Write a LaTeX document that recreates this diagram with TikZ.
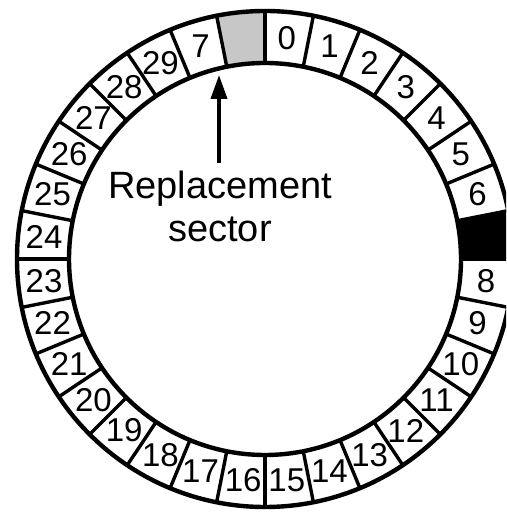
\documentclass[tikz,border=0pt]{standalone}
\usepackage{fontspec}
\setmainfont{Liberation Sans}
\usetikzlibrary{arrows.meta}
\tikzset{
  ringline/.style={line width=4.4pt, black},
  divider/.style={line width=3.4pt, black},
  seclabel/.style={font=\fontsize{33}{36}\selectfont, inner sep=0pt},
  captext/.style={font=\fontsize{38}{43}\selectfont, align=center, inner sep=0pt},
  pointer/.style={line width=3.8pt, -{Triangle[length=24pt,width=16pt]}},
  sparefill/.style={fill=black!22},
  badfill/.style={fill=black}
}
\begin{document}
\begin{tikzpicture}[x=1pt,y=1pt]
\useasboundingbox (0,0) rectangle (506,513);
\fill[white] (0,0) rectangle (506,513);
\clip (0,0) rectangle (506,513);
\begin{scope}[shift={(265,254)}]
  % spare (gray) and bad (black) sectors
  \path[sparefill] (90:196) arc[start angle=90, end angle=101.25, radius=196]
        -- (101.25:248) arc[start angle=101.25, end angle=90, radius=248] -- cycle;
  \path[badfill] (0:196) arc[start angle=0, end angle=11.25, radius=196]
        -- (11.25:248) arc[start angle=11.25, end angle=0, radius=248] -- cycle;
  % rings
  \draw[ringline] (0,0) circle[radius=248];
  \draw[ringline] (0,0) circle[radius=196];
  % dividers
  \foreach \k in {0,...,31}
    \draw[divider] ({90-\k*11.25}:196) -- ({90-\k*11.25}:248);
  % labels
  \foreach \i/\t in {0/0,1/1,2/2,3/3,4/4,5/5,6/6,8/8,9/9,10/10,11/11,12/12,13/13,14/14,15/15,16/16,17/17,18/18,19/19,20/20,21/21,22/22,23/23,24/24,25/25,26/26,27/27,28/28,29/29,30/7}
    \node[seclabel] (s\i) at ({90-(\i+0.5)*11.25}:222) {\t};
  % caption and arrow
  \node[captext] (rep) at (-45,53) {Replacement\\sector};
  \coordinate (tip) at (-46,184);
  \coordinate (tail) at (-46,96);
  \draw[pointer] (tail) -- (tip);
\end{scope}
\end{tikzpicture}
\end{document}
